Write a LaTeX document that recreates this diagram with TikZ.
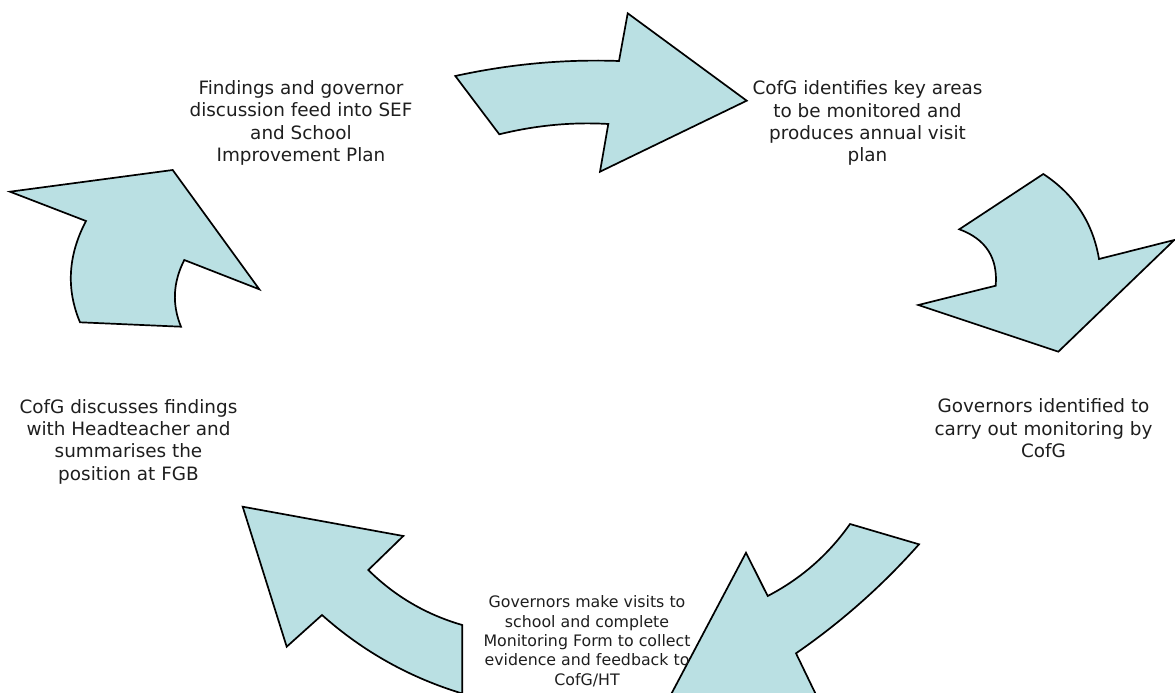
\documentclass[tikz,border=0pt]{standalone}
\usepackage{fontspec}
\setmainfont{DejaVu Sans}
\usetikzlibrary{calc}
\definecolor{arrowfill}{RGB}{186,224,227}
\definecolor{textcol}{RGB}{30,30,30}
\begin{document}
\begin{tikzpicture}[x=1pt,y=-1pt,
  blockarrow/.style={draw=black, fill=arrowfill, line width=1.7pt, line join=miter},
  bigtext/.style={align=center, text=textcol, font=\fontsize{18.4}{22.4}\selectfont, inner sep=0pt,
    execute at begin node=\strut, execute at end node=\strut},
  smalltext/.style={align=center, text=textcol, font=\fontsize{15.8}{19.3}\selectfont, inner sep=0pt,
    execute at begin node=\strut, execute at end node=\strut}]
\useasboundingbox (0,0) rectangle (1175,693);
\clip (0,0) rectangle (1175,693);

% arrow 1 (top)
\coordinate (a1) at (455.3,76);
\coordinate (ac1) at (536.8,58.1);
\coordinate (a2) at (619,61);
\coordinate (a3) at (627.7,13.3);
\coordinate (a4) at (746.7,100.7);
\coordinate (a5) at (600,171.7);
\coordinate (a6) at (608.3,124);
\coordinate (ac2) at (554.2,120.8);
\coordinate (a7) at (499.3,134.3);
\draw[blockarrow] (a1) .. controls ($(a1)!2/3!(ac1)$) and ($(a2)!2/3!(ac1)$) .. (a2)
  -- (a3) -- (a4) -- (a5) -- (a6)
  .. controls ($(a6)!2/3!(ac2)$) and ($(a7)!2/3!(ac2)$) .. (a7) -- cycle;

% arrow 2 (right)
\coordinate (b1) at (1043.3,174);
\coordinate (bc1) at (1089.8,204.5);
\coordinate (b2) at (1099,259);
\coordinate (b3) at (1174.3,240);
\coordinate (b4) at (1058.3,351.7);
\coordinate (b5) at (918.3,305);
\coordinate (b6) at (995.7,285.7);
\coordinate (bc2) at (999.1,243.9);
\coordinate (b7) at (959.3,229.3);
\draw[blockarrow] (b1) .. controls ($(b1)!2/3!(bc1)$) and ($(b2)!2/3!(bc1)$) .. (b2)
  -- (b3) -- (b4) -- (b5) -- (b6)
  .. controls ($(b6)!2/3!(bc2)$) and ($(b7)!2/3!(bc2)$) .. (b7) -- cycle;

% arrow 3 (bottom right)
\coordinate (c1) at (850,524);
\coordinate (c2) at (919,544.3);
\coordinate (cc1) at (864.1,606.3);
\coordinate (c3) at (796,653.3);
\coordinate (c4) at (828.2,720);
\coordinate (c5) at (657.5,720);
\coordinate (c6) at (746,552.7);
\coordinate (c7) at (767.7,596);
\coordinate (cc2) at (817.7,570);
\draw[blockarrow] (c1) -- (c2)
  .. controls ($(c2)!2/3!(cc1)$) and ($(c3)!2/3!(cc1)$) .. (c3)
  -- (c4) -- (c5) -- (c6) -- (c7)
  .. controls ($(c7)!2/3!(cc2)$) and ($(c1)!2/3!(cc2)$) .. (c1) -- cycle;

% arrow 4 (bottom left)
\coordinate (d1) at (242.7,506.7);
\coordinate (d2) at (403.3,536);
\coordinate (d3) at (368.3,570);
\coordinate (dc1) at (408.3,609.5);
\coordinate (d4) at (462.3,625);
\coordinate (d5) at (462.3,693.5);
\coordinate (dc2) at (383.4,669.7);
\coordinate (d6) at (322,615);
\coordinate (d7) at (286.7,646.7);
\draw[blockarrow] (d1) -- (d2) -- (d3)
  .. controls ($(d3)!2/3!(dc1)$) and ($(d4)!2/3!(dc1)$) .. (d4)
  -- (d5)
  .. controls ($(d5)!2/3!(dc2)$) and ($(d6)!2/3!(dc2)$) .. (d6)
  -- (d7) -- cycle;

% arrow 5 (left)
\coordinate (e1) at (10,191.7);
\coordinate (e2) at (172.7,170);
\coordinate (e3) at (259.3,289.3);
\coordinate (e4) at (184.3,260);
\coordinate (ec1) at (167.3,293.3);
\coordinate (e5) at (181,326.7);
\coordinate (e6) at (80,322.3);
\coordinate (ec2) at (59,272.3);
\coordinate (e7) at (86,221);
\draw[blockarrow] (e1) -- (e2) -- (e3) -- (e4)
  .. controls ($(e4)!2/3!(ec1)$) and ($(e5)!2/3!(ec1)$) .. (e5)
  -- (e6)
  .. controls ($(e6)!2/3!(ec2)$) and ($(e7)!2/3!(ec2)$) .. (e7) -- cycle;

% texts
\node[bigtext] (tFind) at (301,124.3) {Findings and governor\\discussion feed into SEF\\and School\\Improvement Plan};
\node[bigtext] (tPlan) at (867.5,124.7) {CofG identifies key areas\\to be monitored and\\produces annual visit\\plan};
\node[bigtext] (tGov) at (1043.5,431.7) {Governors identified to\\carry out monitoring by\\CofG};
\node[bigtext] (tDisc) at (128.5,443) {CofG discusses findings\\with Headteacher and\\summarises the\\position at FGB};
\node[smalltext] (tVisit) at (587,643.3) {Governors make visits to\\school and complete\\Monitoring Form to collect\\evidence and feedback to\\CofG/HT};
\end{tikzpicture}
\end{document}
